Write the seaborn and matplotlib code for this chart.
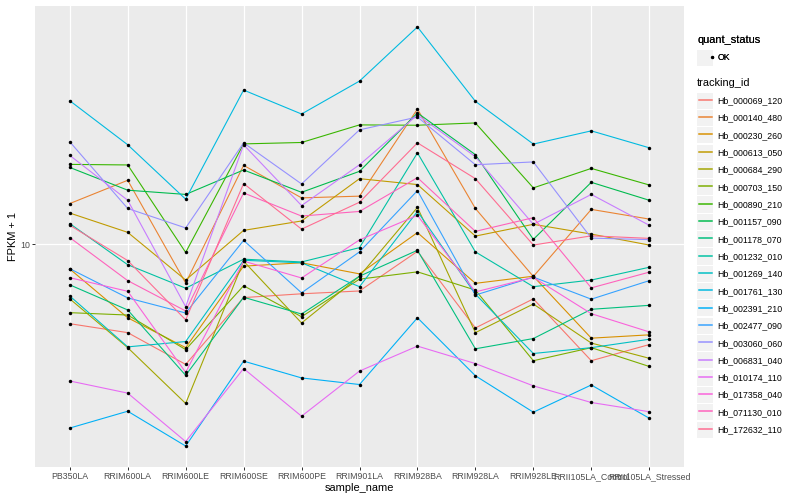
import matplotlib
matplotlib.use('Agg')
import numpy as np
import pandas as pd
import matplotlib.pyplot as plt
import seaborn as sns
from matplotlib.lines import Line2D
from matplotlib.patches import Rectangle
from matplotlib.legend_handler import HandlerLine2D
from matplotlib.ticker import NullLocator

plt.rcParams['font.family'] = ['Liberation Sans', 'DejaVu Sans']

samples = ['PB350LA', 'RRIM600LA', 'RRIM600LE', 'RRIM600SE', 'RRIM600PE', 'RRIM901LA',
           'RRIM928BA', 'RRIM928LA', 'RRIM928LE', 'RRII105LA_Control', 'RRII105LA_Stressed']

tracking_ids = ['Hb_000069_120', 'Hb_000140_480', 'Hb_000230_260', 'Hb_000613_050',
                'Hb_000684_290', 'Hb_000703_150', 'Hb_000890_210', 'Hb_001157_090',
                'Hb_001178_070', 'Hb_001232_010', 'Hb_001269_140', 'Hb_001761_130',
                'Hb_002391_210', 'Hb_002477_090', 'Hb_003060_060', 'Hb_006831_040',
                'Hb_010174_110', 'Hb_017358_040', 'Hb_071130_010', 'Hb_172632_110']

# ggplot hue palette, 20 levels
colors = ['#F8766D', '#EA8331', '#D89000', '#C09B00', '#A3A500', '#7CAE00', '#39B600',
          '#00BB4E', '#00BF7D', '#00C1A3', '#00BFC4', '#00BAE0', '#00B0F6', '#35A2FF',
          '#9590FF', '#C77CFF', '#E76BF3', '#FA62DB', '#FF62BC', '#FF6C91']

# FPKM + 1, one value per sample
hb_000069_120 = [7.36, 7.11, 6.29, 8.14, 8.26, 8.35, 9.73, 7.24, 8.10, 6.38, 6.79]
hb_000140_480 = [11.70, 12.80, 8.61, 13.56, 11.96, 12.04, 16.85, 11.48, 8.83, 11.44, 11.02]
hb_000230_260 = [9.09, 7.53, 6.71, 9.19, 9.31, 8.92, 10.46, 8.60, 8.84, 6.96, 7.05]
hb_000613_050 = [11.28, 10.47, 8.71, 10.55, 10.94, 12.88, 12.59, 10.32, 10.80, 10.40, 9.97]
hb_000684_290 = [8.10, 6.71, 5.41, 9.37, 7.38, 8.84, 11.53, 7.11, 7.94, 6.83, 6.44]
hb_000703_150 = [7.68, 7.61, 6.66, 8.52, 7.56, 8.74, 8.99, 8.38, 6.38, 6.71, 6.24]
hb_000890_210 = [13.61, 13.58, 9.69, 14.73, 14.81, 15.85, 15.83, 15.97, 12.43, 13.40, 12.57]
hb_001157_090 = [13.45, 12.32, 12.12, 13.32, 12.22, 13.25, 16.60, 14.13, 10.19, 12.70, 11.85]
hb_001178_070 = [8.55, 7.76, 6.03, 8.15, 7.64, 8.84, 9.77, 6.68, 6.95, 7.78, 7.90]
hb_001232_010 = [10.83, 9.24, 8.44, 9.44, 9.34, 9.87, 14.23, 9.71, 8.49, 8.71, 9.15]
hb_001269_140 = [8.19, 6.73, 6.87, 9.40, 9.31, 8.49, 11.35, 8.25, 6.56, 6.71, 6.93]
hb_001761_130 = [17.40, 14.68, 11.90, 18.13, 16.53, 18.77, 23.13, 17.36, 14.72, 15.49, 14.51]
hb_002391_210 = [4.92, 5.25, 4.59, 6.37, 5.97, 5.82, 7.53, 6.02, 5.23, 5.81, 5.11]
hb_002477_090 = [9.10, 8.13, 7.67, 10.15, 8.29, 9.71, 12.30, 8.22, 8.81, 8.09, 8.69]
hb_003060_060 = [14.85, 11.48, 10.65, 14.79, 12.62, 15.55, 16.34, 13.59, 13.74, 10.24, 10.18]
hb_006831_040 = [14.09, 11.85, 7.86, 14.68, 11.61, 13.59, 16.47, 14.02, 10.80, 12.12, 10.76]
hb_010174_110 = [5.90, 5.63, 4.67, 6.19, 5.15, 6.13, 6.75, 6.31, 5.79, 5.43, 5.24]
hb_017358_040 = [8.79, 8.34, 6.10, 9.37, 8.78, 10.17, 11.18, 8.32, 8.80, 7.65, 7.13]
hb_071130_010 = [10.26, 8.69, 7.73, 12.19, 11.15, 11.35, 12.93, 10.51, 11.08, 8.45, 8.98]
hb_172632_110 = [10.76, 9.39, 7.47, 12.64, 10.60, 11.76, 14.79, 12.88, 9.97, 10.33, 10.23]

series = [hb_000069_120, hb_000140_480, hb_000230_260, hb_000613_050, hb_000684_290,
          hb_000703_150, hb_000890_210, hb_001157_090, hb_001178_070, hb_001232_010,
          hb_001269_140, hb_001761_130, hb_002391_210, hb_002477_090, hb_003060_060,
          hb_006831_040, hb_010174_110, hb_017358_040, hb_071130_010, hb_172632_110]

rows = []
for tid, vals in zip(tracking_ids, series):
    for s, v in zip(samples, vals):
        rows.append({'tracking_id': tid, 'sample_name': s, 'fpkm': v, 'quant_status': 'OK'})
df = pd.DataFrame(rows)


class KeyHandler(HandlerLine2D):
    """legend key with the grey ggplot box behind it, line centred in the box"""
    def create_artists(self, legend, orig_handle, xdescent, ydescent, width, height, fontsize, trans):
        bg = Rectangle((-xdescent, -ydescent + 0.6), width, height - 1.2,
                       facecolor='#F2F2F2', edgecolor='none', transform=trans)
        arts = list(super().create_artists(legend, orig_handle, xdescent, ydescent,
                                           width, height, fontsize, trans))
        yc = round(height / 2 - ydescent) + 0.5
        line, marker = arts[0], arts[-1]
        line.set_data([-xdescent + 1.5, -xdescent + width - 1.5], [yc, yc])
        if marker is not line:
            marker.set_data([-xdescent + width / 2], [yc])
        return [bg] + arts


fig = plt.figure(figsize=(800 / 72, 500 / 72), dpi=72)
ax = fig.add_axes([35 / 800, 33 / 500, 649 / 800, 461 / 500])
ax.set_facecolor('#EBEBEB')

sns.lineplot(data=df, x='sample_name', y='fpkm', hue='tracking_id', hue_order=tracking_ids,
             palette=colors, sort=False, estimator=None, linewidth=1.1, legend=False, ax=ax)
sns.scatterplot(data=df, x='sample_name', y='fpkm', color='black', s=12, linewidth=0,
                legend=False, ax=ax, zorder=5)

ax.set_yscale('log')
lo, hi = np.log10(df['fpkm'].min()), np.log10(df['fpkm'].max())
pad = 0.05 * (hi - lo)
ax.set_ylim(10 ** (lo - pad), 10 ** (hi + pad))
ax.set_yticks([10])
ax.set_yticklabels(['10'])
ax.yaxis.set_minor_locator(NullLocator())
ax.set_xlim(-0.6, len(samples) - 0.4)

ax.grid(True, which='major', color='white', linewidth=1.2)
ax.set_axisbelow(True)
for sp in ax.spines.values():
    sp.set_visible(False)
ax.tick_params(axis='both', length=2.75, width=1.0, color='#333333',
               labelsize=8.8, labelcolor='#4D4D4D', pad=2.2)
ax.set_xlabel('sample_name', fontsize=11, labelpad=2.5)
ax.set_ylabel('FPKM + 1', fontsize=11, labelpad=2.5)

# legends
leg_kw = dict(loc='upper left', frameon=False, fontsize=8.8,
              title_fontproperties={'size': 11, 'weight': 'normal'}, alignment='left',
              handlelength=1.85, handleheight=2.65, handletextpad=0.45,
              labelspacing=0, borderpad=0, borderaxespad=0,
              handler_map={Line2D: KeyHandler()})
status_h = [Line2D([], [], linestyle='none', marker='o', markersize=3.4,
                   markerfacecolor='black', markeredgewidth=0)]
leg1 = fig.legend(status_h, ['OK'], title='quant_status',
                  bbox_to_anchor=(697 / 800, 1 - 35 / 500), **leg_kw)
leg1._legend_box.sep = 4
track_h = [Line2D([], [], color=c, linewidth=1.5) for c in colors]
leg2 = fig.legend(track_h, tracking_ids, title='tracking_id',
                  bbox_to_anchor=(697 / 800, 1 - 78 / 500), **leg_kw)
leg2._legend_box.sep = 4
fig.add_artist(leg1)

fig.savefig('out.png', dpi=72)
